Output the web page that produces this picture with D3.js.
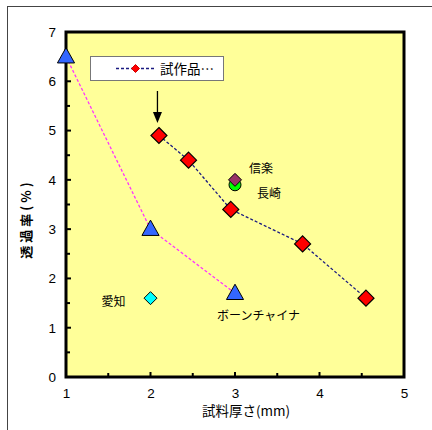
<!DOCTYPE html>
<html><head><meta charset="utf-8">
<script src="https://cdn.jsdelivr.net/npm/d3@7"></script>
<style>body{margin:0;background:#fff}svg{display:block}</style>
</head><body>
<svg id="c" width="432" height="430"></svg>
<script>
const xTicks = [1, 2, 3, 4, 5];
const yTicks = [0, 1, 2, 3, 4, 5, 6, 7];
const seriesName = "試作品…";
const trialX = [2.1, 2.45, 2.95, 3.8, 4.55];
const trialY = [4.9, 4.4, 3.4, 2.7, 1.6];
const boneX = [1, 2, 3];
const boneY = [6.5, 3.0, 1.7];
const boneLabel = "ボーンチャイナ";
const aichi = {x: 2, y: 1.6, label: "愛知"};
const shigaraki = {x: 3, y: 4.0, label: "信楽"};
const nagasaki = {x: 3, y: 3.9, label: "長崎"};
const xTitle = "試料厚さ(mm)";
const yTitle = "透過率(%)";

const svg = d3.select("#c");
const L = 66, R = 404, T = 32, B = 377;
const x = d3.scaleLinear().domain([1, 5]).range([L, R]);
const y = d3.scaleLinear().domain([0, 7]).range([B, T]);
const jp = "'Noto Sans CJK JP', sans-serif";
const lat = "'Liberation Sans', Arial, sans-serif";

// outer frame
svg.append("rect").attr("x", 7.5).attr("y", 6.5).attr("width", 440).attr("height", 440)
  .attr("fill", "none").attr("stroke", "#444").attr("stroke-width", 1);

// plot area
svg.append("rect").attr("x", L).attr("y", T).attr("width", R - L).attr("height", B - T)
  .attr("fill", "#ffff99").attr("stroke", "#000").attr("stroke-width", 3);

// ticks (inward) major + minor
const g = svg.append("g");
d3.range(0, 7.01, 0.5).forEach(v => {
  const major = Math.abs(v - Math.round(v)) < 1e-6;
  g.append("line").attr("x1", L).attr("x2", L + (major ? 5 : 4))
    .attr("y1", y(v)).attr("y2", y(v)).attr("stroke", "#000").attr("stroke-width", 2);
});
d3.range(1, 5.01, 0.5).forEach(v => {
  const major = Math.abs(v - Math.round(v)) < 1e-6;
  g.append("line").attr("y1", B).attr("y2", B - (major ? 5 : 4))
    .attr("x1", x(v)).attr("x2", x(v)).attr("stroke", "#000").attr("stroke-width", 2);
});

// axis tick labels via d3 axes (hidden lines)
const xa = svg.append("g").attr("transform", `translate(0,${B})`)
  .call(d3.axisBottom(x).tickValues(xTicks).tickSize(0).tickPadding(11).tickFormat(d3.format("d")));
xa.select(".domain").remove();
xa.selectAll("text").attr("font-family", lat).attr("font-size", 13.5).attr("fill", "#000");
const ya = svg.append("g").attr("transform", `translate(${L},0)`)
  .call(d3.axisLeft(y).tickValues(yTicks).tickSize(0).tickPadding(10).tickFormat(d3.format("d")));
ya.select(".domain").remove();
ya.selectAll("text").attr("font-family", lat).attr("font-size", 13.5).attr("fill", "#000");

// titles
svg.append("text").attr("x", 246).attr("y", 416).attr("text-anchor", "middle")
  .attr("font-family", jp).attr("font-size", 13.5).text(xTitle);
svg.append("text").attr("transform", "translate(31,219) rotate(-90)").attr("text-anchor", "middle")
  .attr("font-family", jp).attr("font-size", 13).attr("font-weight", "bold")
  .attr("letter-spacing", 3).text(yTitle);

// bone china line
const line = d3.line().x(d => x(d[0])).y(d => y(d[1]));
const bone = boneX.map((v, i) => [v, boneY[i]]);
svg.append("path").datum(bone).attr("d", line).attr("fill", "none")
  .attr("stroke", "#ff33ff").attr("stroke-width", 1.3).attr("stroke-dasharray", "3,2");
// trial line
const trial = trialX.map((v, i) => [v, trialY[i]]);
svg.append("path").datum(trial).attr("d", line).attr("fill", "none")
  .attr("stroke", "#1a1a80").attr("stroke-width", 1.3).attr("stroke-dasharray", "3,2");

const diamond = (cx, cy, r) => `M${cx},${cy - r}L${cx + r},${cy}L${cx},${cy + r}L${cx - r},${cy}Z`;
const tri = (cx, cy, s) => `M${cx},${cy - s}L${cx + s * 0.95},${cy + s * 0.7}L${cx - s * 0.95},${cy + s * 0.7}Z`;

// triangles
svg.selectAll(".tri").data(bone).enter().append("path")
  .attr("d", d => tri(x(d[0]), y(d[1]), 9)).attr("fill", "#3366ff").attr("stroke", "#000").attr("stroke-width", 1);

// nagasaki circle, then shigaraki diamond
svg.append("circle").attr("cx", x(nagasaki.x)).attr("cy", y(nagasaki.y)).attr("r", 6)
  .attr("fill", "#00ff00").attr("stroke", "#000").attr("stroke-width", 1);
svg.append("path").attr("d", diamond(x(shigaraki.x), y(shigaraki.y), 6.5))
  .attr("fill", "#993366").attr("stroke", "#000").attr("stroke-width", 1);

// aichi
svg.append("path").attr("d", diamond(x(aichi.x), y(aichi.y), 6.5))
  .attr("fill", "#00ffff").attr("stroke", "#000").attr("stroke-width", 1);

// trial diamonds
svg.selectAll(".dia").data(trial).enter().append("path")
  .attr("d", d => diamond(x(d[0]), y(d[1]), 8)).attr("fill", "#ff0000").attr("stroke", "#000").attr("stroke-width", 1.2);

// labels
const lab = (t, lx, ly) => svg.append("text").attr("x", lx).attr("y", ly)
  .attr("font-family", jp).attr("font-size", 12).attr("fill", "#000").text(t);
lab(shigaraki.label, x(shigaraki.x) + 14, y(shigaraki.y) - 7);
lab(nagasaki.label, x(nagasaki.x) + 22, y(nagasaki.y) + 13);
lab(aichi.label, x(aichi.x) - 49, y(aichi.y) + 8);
lab(boneLabel, x(boneX[2]) - 18, y(boneY[2]) + 27);

// arrow
const ax = x(2.1) - 1.5;
svg.append("line").attr("x1", ax).attr("x2", ax).attr("y1", 91).attr("y2", 114)
  .attr("stroke", "#000").attr("stroke-width", 1.3);
svg.append("path").attr("d", `M${ax - 4.5},112L${ax + 4.5},112L${ax},123Z`).attr("fill", "#000");

// legend
svg.append("rect").attr("x", 90.5).attr("y", 56.5).attr("width", 133).attr("height", 24)
  .attr("fill", "#fff").attr("stroke", "#777").attr("stroke-width", 1);
svg.append("line").attr("x1", 116).attr("x2", 155).attr("y1", 68.5).attr("y2", 68.5)
  .attr("stroke", "#1a1a80").attr("stroke-width", 1.3).attr("stroke-dasharray", "3,2");
svg.append("path").attr("d", diamond(135.5, 68.5, 4)).attr("fill", "#ff0000").attr("stroke", "#cc0000");
svg.append("text").attr("x", 160).attr("y", 73.5).attr("font-family", jp).attr("font-size", 13.5).text(seriesName);
</script>
</body></html>
